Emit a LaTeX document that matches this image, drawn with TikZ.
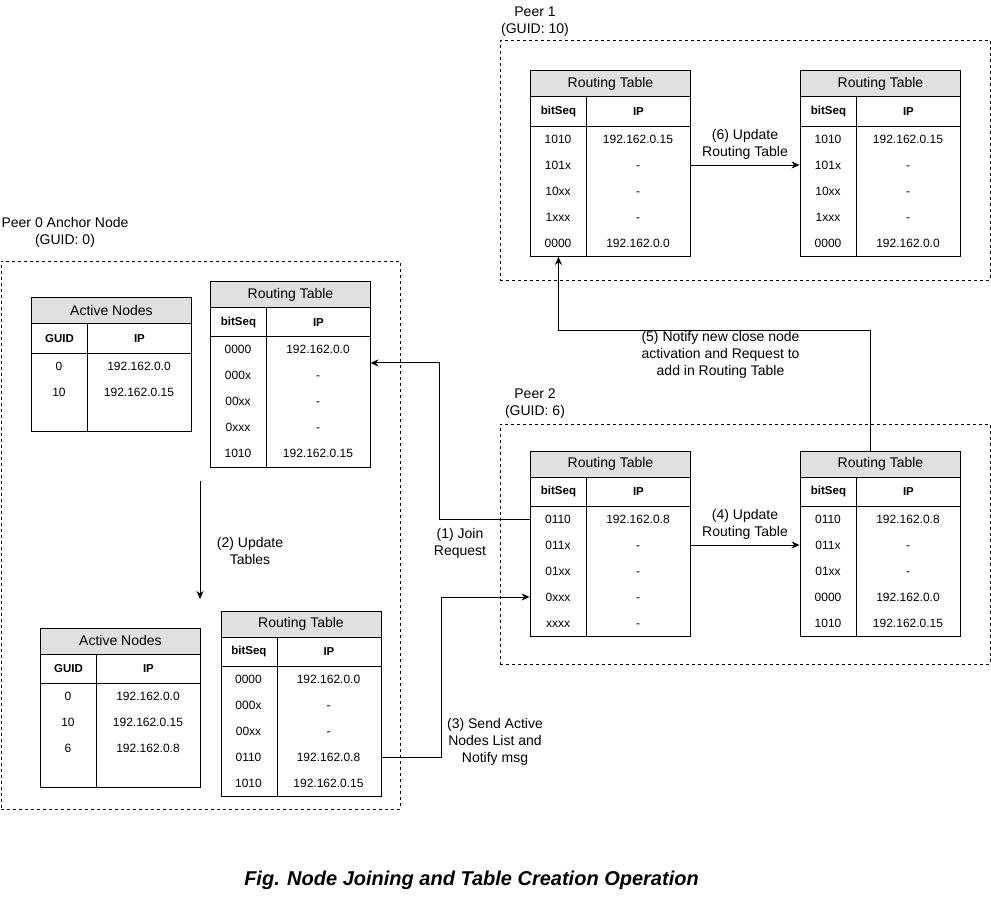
\documentclass[tikz,border=0pt]{standalone}
\usepackage{fontspec}
\setmainfont{Liberation Sans}
\usepackage{tikz}
\usetikzlibrary{arrows.meta,calc}
\definecolor{myheadcolor}{HTML}{e0e0e0}

\tikzset{%
hdr/.style={draw, fill=myheadcolor, anchor=north west, minimum width=160, minimum height=26, inner sep=0pt, font=\fontsize{14pt}{14pt}\selectfont},%
subk/.style={draw, anchor=north west, minimum width=56, minimum height=29.5, inner sep=0pt, font=\bfseries\fontsize{11.5pt}{11.5pt}\selectfont},%
subv/.style={subk, minimum width=104},%
colk/.style={draw, anchor=north west, minimum width=56, inner sep=0pt},%
colv/.style={colk, minimum width=104},%
cellk/.style={minimum width=56, minimum height=26, inner sep=0pt, text height=8.6pt, text depth=0pt, font=\fontsize{12pt}{12pt}\selectfont},%
cellv/.style={cellk, minimum width=104},%
peerbox/.style={draw, dash pattern=on 3pt off 3pt, anchor=north west, inner sep=0pt},%
lbl/.style={align=center, font=\fontsize{14pt}{17pt}\selectfont},%
flow/.style={-{Stealth[length=8pt,width=7pt]}}%
}

\begin{document}
\begin{tikzpicture}[x=1pt, y=-1pt, line width=0.9pt]%
\useasboundingbox (0,0) rectangle (991,901);%
% peer boxes
\node[peerbox, minimum width=399, minimum height=548] (peer0) at (1,261) {};%
\node[peerbox, minimum width=490, minimum height=239.5] (peer1) at (500,40.5) {};%
\node[peerbox, minimum width=490, minimum height=240] (peer2) at (500,423.5) {};%
\node[lbl] (peer0-lbl) at (65,232) {Peer 0 Anchor Node\\(GUID: 0)};%
\node[lbl] (peer1-lbl) at (535,22) {Peer 1\\(GUID: 10)};%
\node[lbl] (peer2-lbl) at (535,404) {Peer 2\\(GUID: 6)};%
% peer 0: active nodes (before)
\node[hdr] (p0an-h) at (31,297.5) {Active Nodes};%
\node[subk] (p0an-sk) at (31,323.5) {GUID};%
\node[subv] (p0an-sv) at (87,323.5) {IP};%
\node[colk, minimum height=78] (p0an-bk) at (31,353) {};%
\node[colv, minimum height=78] (p0an-bv) at (87,353) {};%
\node[cellk] (p0an-k1) at (59,366) {0};%
\node[cellv] (p0an-v1) at (139,366) {192.162.0.0};%
\node[cellk] (p0an-k2) at (59,392) {10};%
\node[cellv] (p0an-v2) at (139,392) {192.162.0.15};%
% peer 0: routing table (before)
\node[hdr] (p0rt-h) at (210,281) {Routing Table};%
\node[subk] (p0rt-sk) at (210,307) {bitSeq};%
\node[subv] (p0rt-sv) at (266,307) {IP};%
\node[colk, minimum height=130] (p0rt-bk) at (210,336.5) {};%
\node[colv, minimum height=130] (p0rt-bv) at (266,336.5) {};%
\node[cellk] (p0rt-k1) at (238,349.5) {0000};%
\node[cellv] (p0rt-v1) at (318,349.5) {192.162.0.0};%
\node[cellk] (p0rt-k2) at (238,375.5) {000x};%
\node[cellv] (p0rt-v2) at (318,375.5) {-};%
\node[cellk] (p0rt-k3) at (238,401.5) {00xx};%
\node[cellv] (p0rt-v3) at (318,401.5) {-};%
\node[cellk] (p0rt-k4) at (238,427.5) {0xxx};%
\node[cellv] (p0rt-v4) at (318,427.5) {-};%
\node[cellk] (p0rt-k5) at (238,453.5) {1010};%
\node[cellv] (p0rt-v5) at (318,453.5) {192.162.0.15};%
% peer 0: active nodes (after)
\node[hdr] (p0an2-h) at (40,627.5) {Active Nodes};%
\node[subk] (p0an2-sk) at (40,653.5) {GUID};%
\node[subv] (p0an2-sv) at (96,653.5) {IP};%
\node[colk, minimum height=104] (p0an2-bk) at (40,683) {};%
\node[colv, minimum height=104] (p0an2-bv) at (96,683) {};%
\node[cellk] (p0an2-k1) at (68,696) {0};%
\node[cellv] (p0an2-v1) at (148,696) {192.162.0.0};%
\node[cellk] (p0an2-k2) at (68,722) {10};%
\node[cellv] (p0an2-v2) at (148,722) {192.162.0.15};%
\node[cellk] (p0an2-k3) at (68,748) {6};%
\node[cellv] (p0an2-v3) at (148,748) {192.162.0.8};%
% peer 0: routing table (after)
\node[hdr] (p0rt2-h) at (220.5,610.5) {Routing Table};%
\node[subk] (p0rt2-sk) at (220.5,636.5) {bitSeq};%
\node[subv] (p0rt2-sv) at (276.5,636.5) {IP};%
\node[colk, minimum height=130] (p0rt2-bk) at (220.5,666) {};%
\node[colv, minimum height=130] (p0rt2-bv) at (276.5,666) {};%
\node[cellk] (p0rt2-k1) at (248.5,679) {0000};%
\node[cellv] (p0rt2-v1) at (328.5,679) {192.162.0.0};%
\node[cellk] (p0rt2-k2) at (248.5,705) {000x};%
\node[cellv] (p0rt2-v2) at (328.5,705) {-};%
\node[cellk] (p0rt2-k3) at (248.5,731) {00xx};%
\node[cellv] (p0rt2-v3) at (328.5,731) {-};%
\node[cellk] (p0rt2-k4) at (248.5,757) {0110};%
\node[cellv] (p0rt2-v4) at (328.5,757) {192.162.0.8};%
\node[cellk] (p0rt2-k5) at (248.5,783) {1010};%
\node[cellv] (p0rt2-v5) at (328.5,783) {192.162.0.15};%
% peer 1: routing table (before)
\node[hdr] (p1a-h) at (530,70.5) {Routing Table};%
\node[subk] (p1a-sk) at (530,96.5) {bitSeq};%
\node[subv] (p1a-sv) at (586,96.5) {IP};%
\node[colk, minimum height=130] (p1a-bk) at (530,126) {};%
\node[colv, minimum height=130] (p1a-bv) at (586,126) {};%
\node[cellk] (p1a-k1) at (558,139) {1010};%
\node[cellv] (p1a-v1) at (638,139) {192.162.0.15};%
\node[cellk] (p1a-k2) at (558,165) {101x};%
\node[cellv] (p1a-v2) at (638,165) {-};%
\node[cellk] (p1a-k3) at (558,191) {10xx};%
\node[cellv] (p1a-v3) at (638,191) {-};%
\node[cellk] (p1a-k4) at (558,217) {1xxx};%
\node[cellv] (p1a-v4) at (638,217) {-};%
\node[cellk] (p1a-k5) at (558,243) {0000};%
\node[cellv] (p1a-v5) at (638,243) {192.162.0.0};%
% peer 1: routing table (after)
\node[hdr] (p1b-h) at (800,70.5) {Routing Table};%
\node[subk] (p1b-sk) at (800,96.5) {bitSeq};%
\node[subv] (p1b-sv) at (856,96.5) {IP};%
\node[colk, minimum height=130] (p1b-bk) at (800,126) {};%
\node[colv, minimum height=130] (p1b-bv) at (856,126) {};%
\node[cellk] (p1b-k1) at (828,139) {1010};%
\node[cellv] (p1b-v1) at (908,139) {192.162.0.15};%
\node[cellk] (p1b-k2) at (828,165) {101x};%
\node[cellv] (p1b-v2) at (908,165) {-};%
\node[cellk] (p1b-k3) at (828,191) {10xx};%
\node[cellv] (p1b-v3) at (908,191) {-};%
\node[cellk] (p1b-k4) at (828,217) {1xxx};%
\node[cellv] (p1b-v4) at (908,217) {-};%
\node[cellk] (p1b-k5) at (828,243) {0000};%
\node[cellv] (p1b-v5) at (908,243) {192.162.0.0};%
% peer 2: routing table (before)
\node[hdr] (p2a-h) at (530,450.5) {Routing Table};%
\node[subk] (p2a-sk) at (530,476.5) {bitSeq};%
\node[subv] (p2a-sv) at (586,476.5) {IP};%
\node[colk, minimum height=130] (p2a-bk) at (530,506) {};%
\node[colv, minimum height=130] (p2a-bv) at (586,506) {};%
\node[cellk] (p2a-k1) at (558,519) {0110};%
\node[cellv] (p2a-v1) at (638,519) {192.162.0.8};%
\node[cellk] (p2a-k2) at (558,545) {011x};%
\node[cellv] (p2a-v2) at (638,545) {-};%
\node[cellk] (p2a-k3) at (558,571) {01xx};%
\node[cellv] (p2a-v3) at (638,571) {-};%
\node[cellk] (p2a-k4) at (558,597) {0xxx};%
\node[cellv] (p2a-v4) at (638,597) {-};%
\node[cellk] (p2a-k5) at (558,623) {xxxx};%
\node[cellv] (p2a-v5) at (638,623) {-};%
% peer 2: routing table (after)
\node[hdr] (p2b-h) at (800,450.5) {Routing Table};%
\node[subk] (p2b-sk) at (800,476.5) {bitSeq};%
\node[subv] (p2b-sv) at (856,476.5) {IP};%
\node[colk, minimum height=130] (p2b-bk) at (800,506) {};%
\node[colv, minimum height=130] (p2b-bv) at (856,506) {};%
\node[cellk] (p2b-k1) at (828,519) {0110};%
\node[cellv] (p2b-v1) at (908,519) {192.162.0.8};%
\node[cellk] (p2b-k2) at (828,545) {011x};%
\node[cellv] (p2b-v2) at (908,545) {-};%
\node[cellk] (p2b-k3) at (828,571) {01xx};%
\node[cellv] (p2b-v3) at (908,571) {-};%
\node[cellk] (p2b-k4) at (828,597) {0000};%
\node[cellv] (p2b-v4) at (908,597) {192.162.0.0};%
\node[cellk] (p2b-k5) at (828,623) {1010};%
\node[cellv] (p2b-v5) at (908,623) {192.162.0.15};%
% steps
\coordinate (upd-s) at (200,481);%
\coordinate (upd-e) at (200,599);%
\draw[flow] (p2a-k1.west) -- ++(-90,0) |- (p0rt-v1.south east);%
\node[lbl] (join-lbl) at (460,543.5) {(1) Join\\Request};%
\draw[flow] (upd-s) -- (upd-e);%
\node[lbl] (upd-lbl) at (250,550.5) {(2) Update\\Tables};%
\draw[flow] (p0rt2-v4.east) -- ++(60,0) |- (p2a-k4.west);%
\node[lbl] (send-lbl) at (495,741.5) {(3) Send Active\\Nodes List and\\Notify msg};%
\draw[flow] (p2a-v2.east) -- (p2b-k2.west);%
\node[lbl] (p2upd-lbl) at (745,524.5) {(4) Update\\Routing Table};%
\draw[flow] ($(p2b-h.north)-(10,0)$) -- ++(0,-120) -| (p1a-bk.south);%
\node[lbl] (notify-lbl) at (720.5,355) {(5) Notify new close node\\activation and Request to\\add in Routing Table};%
\draw[flow] (p1a-v2.east) -- (p1b-k2.west);%
\node[lbl] (p1upd-lbl) at (745,144.5) {(6) Update\\Routing Table};%
\node (caption) at (471.5,880.5) {\bfseries\itshape\fontsize{20pt}{20pt}\selectfont Fig. Node Joining and Table Creation Operation};%
\end{tikzpicture}
\end{document}
